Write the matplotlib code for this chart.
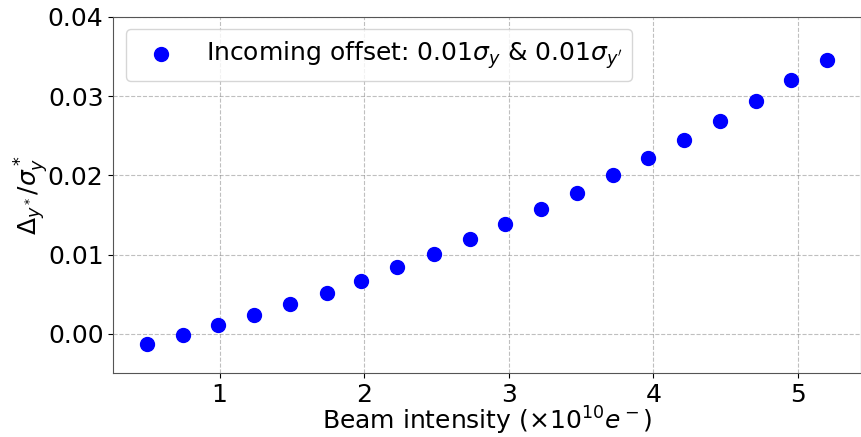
import numpy as np
import matplotlib
matplotlib.use('Agg')
import matplotlib.pyplot as plt

#beam intensity in units of 1e10 electrons
intensity = [0.50, 0.75, 0.99, 1.24, 1.49, 1.74, 1.98, 2.23, 2.48, 2.73,
             2.97, 3.22, 3.47, 3.72, 3.96, 4.21, 4.46, 4.71, 4.95, 5.20]

#normalised offset at the IP
offset = [-0.00127, -0.00016, 0.00105, 0.0024, 0.00376, 0.0052, 0.0067, 0.0084, 0.0101, 0.01194,
          0.0138, 0.0158, 0.0178, 0.0200, 0.0222, 0.0245, 0.0269, 0.0294, 0.0320, 0.0346]

y_ticks = [0.00, 0.01, 0.02, 0.03, 0.04]
x_ticks = [1, 2, 3, 4, 5]

fig = plt.figure(figsize=(8.61, 4.37), dpi=100)
ax = fig.add_axes([0.1316, 0.1458, 0.8684, 0.8153])

ax.scatter(intensity, offset, s=100, color='blue', zorder=3,
           label=r"Incoming offset: $0.01\sigma_y$ & $0.01\sigma_{y'}$")

ax.set_xlim(0.265, 5.435)
ax.set_ylim(-0.005, 0.04)
ax.set_xticks(x_ticks)
ax.set_yticks(y_ticks)
ax.tick_params(labelsize=18)

ax.set_xlabel(r"Beam intensity ($\times 10^{10} e^-$)", fontsize=18, labelpad=-1.5)
ax.set_ylabel(r"$\Delta_{y^*}/\sigma_y^*$", fontsize=18, labelpad=-2)

ax.grid(True, linestyle='--', color='gray', alpha=0.5)
ax.legend(loc='upper left', fontsize=18)

for spine in ax.spines.values():
    spine.set_color('#555555')

fig.savefig('out.png', dpi=100)
